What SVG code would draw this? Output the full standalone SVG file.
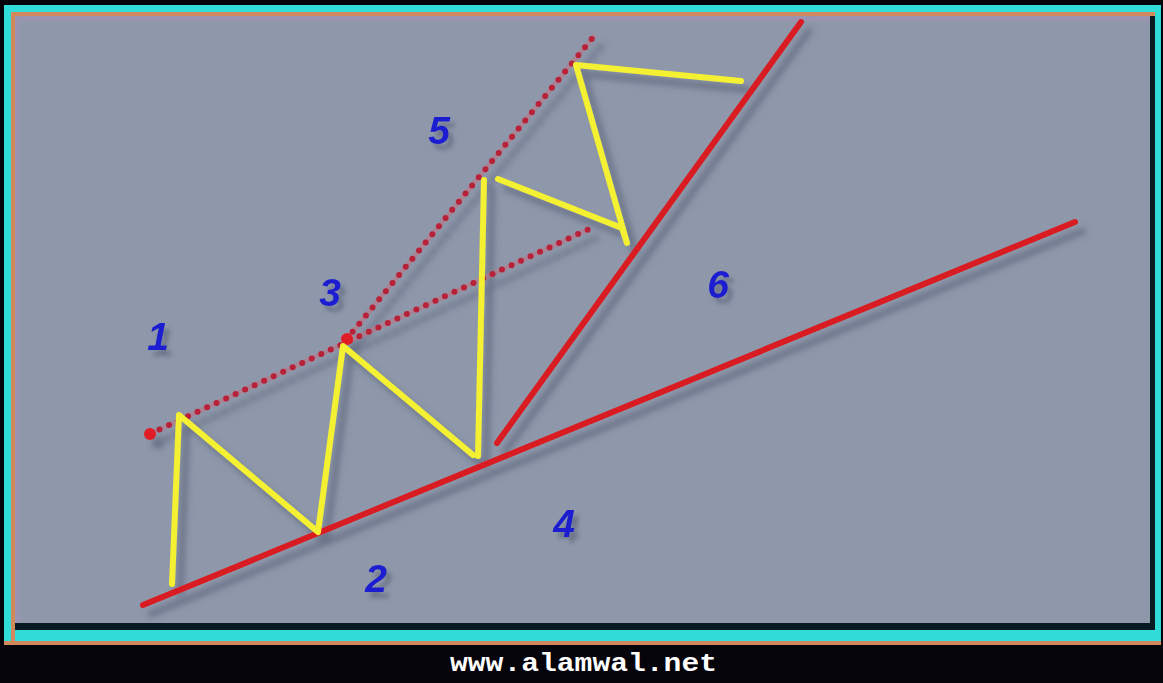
<svg xmlns="http://www.w3.org/2000/svg" width="1163" height="683" viewBox="0 0 1163 683">
  <defs>
    <filter id="sh" x="-10%" y="-10%" width="130%" height="130%">
      <feGaussianBlur in="SourceAlpha" stdDeviation="3"/>
      <feOffset dx="8" dy="9" result="b"/>
      <feFlood flood-color="#4a5068" flood-opacity="0.55"/>
      <feComposite in2="b" operator="in" result="s"/>
      <feMerge><feMergeNode in="s"/><feMergeNode in="SourceGraphic"/></feMerge>
    </filter>
    <filter id="tsh" x="-50%" y="-50%" width="200%" height="200%">
      <feGaussianBlur in="SourceAlpha" stdDeviation="2"/>
      <feOffset dx="5" dy="6" result="b"/>
      <feFlood flood-color="#4a5068" flood-opacity="0.5"/>
      <feComposite in2="b" operator="in" result="s"/>
      <feMerge><feMergeNode in="s"/><feMergeNode in="SourceGraphic"/></feMerge>
    </filter>
  </defs>
  <style>
    .red{stroke:#d81e22;stroke-width:6;stroke-linecap:round;fill:none}
    .halo{stroke:#c86a7c;stroke-width:5;opacity:0.45;fill:none}
    .dot{stroke:#b82038;stroke-width:6;stroke-linecap:round;stroke-dasharray:0 10.5;fill:none}
    .yel{stroke:#f4f030;stroke-width:6;stroke-linecap:round;stroke-linejoin:round;fill:none}
    .lbl{font-family:"Liberation Sans",Arial,sans-serif;font-weight:bold;font-style:italic;font-size:39px;fill:#1c1cd0;text-anchor:middle}
    .url{font-family:"Liberation Mono","Courier New",monospace;font-size:26px;font-weight:bold;fill:#ffffff}
  </style>
  <!-- frame -->
  <rect x="0" y="0" width="1163" height="683" fill="#04040a"/>
  <rect x="4" y="5" width="1157" height="636" fill="#2fdcd8"/>
  <path d="M11 12 H1155 V16 H15 V641 H11 Z" fill="#d0885c"/>
  <path d="M4 641 H1161 V645 H4 Z" fill="#d0885c"/>
  <path d="M15 16 H1155 V630 H15 Z" fill="#0a1a22"/>
  <rect x="15" y="16" width="1135" height="607" fill="#9a94b0"/>
  <rect x="20" y="21" width="1130" height="602" fill="#8e98aa"/>

  <g id="connectors" filter="url(#sh)">
    <g id="support-line"><line class="red" x1="143" y1="605" x2="1075" y2="222"/></g>
    <g id="steep-line"><line class="red" x1="497" y1="443" x2="801" y2="22"/></g>
    <g id="dotted-lines">
      <line class="halo" x1="150" y1="434" x2="589" y2="229"/>
      <line class="halo" x1="346" y1="340" x2="595" y2="35"/>
      <line class="dot" x1="150" y1="434" x2="589" y2="229"/>
      <line class="dot" x1="346" y1="340" x2="595" y2="35"/>
      <circle cx="150" cy="434" r="6" fill="#e01e28"/>
      <circle cx="347" cy="339" r="6" fill="#e01e28"/>
    </g>
    <g id="zigzag">
      <polyline class="yel" points="172,584 179,415 318,532 343,346 473,455"/>
      <line class="yel" x1="478" y1="456" x2="484" y2="180"/>
      <polyline class="yel" points="498,179 622,228 627,243 576,65 741,81"/>
    </g>
  </g>

  <g id="labels" filter="url(#tsh)">
    <g id="n1"><text class="lbl" x="158" y="350">1</text></g>
    <g id="n2"><text class="lbl" x="376" y="592">2</text></g>
    <g id="n3"><text class="lbl" x="330" y="306">3</text></g>
    <g id="n4"><text class="lbl" x="564" y="537">4</text></g>
    <g id="n5"><text class="lbl" x="439" y="144">5</text></g>
    <g id="n6"><text class="lbl" x="718" y="298">6</text></g>
  </g>

  <g id="footer"><text class="url" x="450" y="671" textLength="267" lengthAdjust="spacingAndGlyphs">www.alamwal.net</text></g>
</svg>
